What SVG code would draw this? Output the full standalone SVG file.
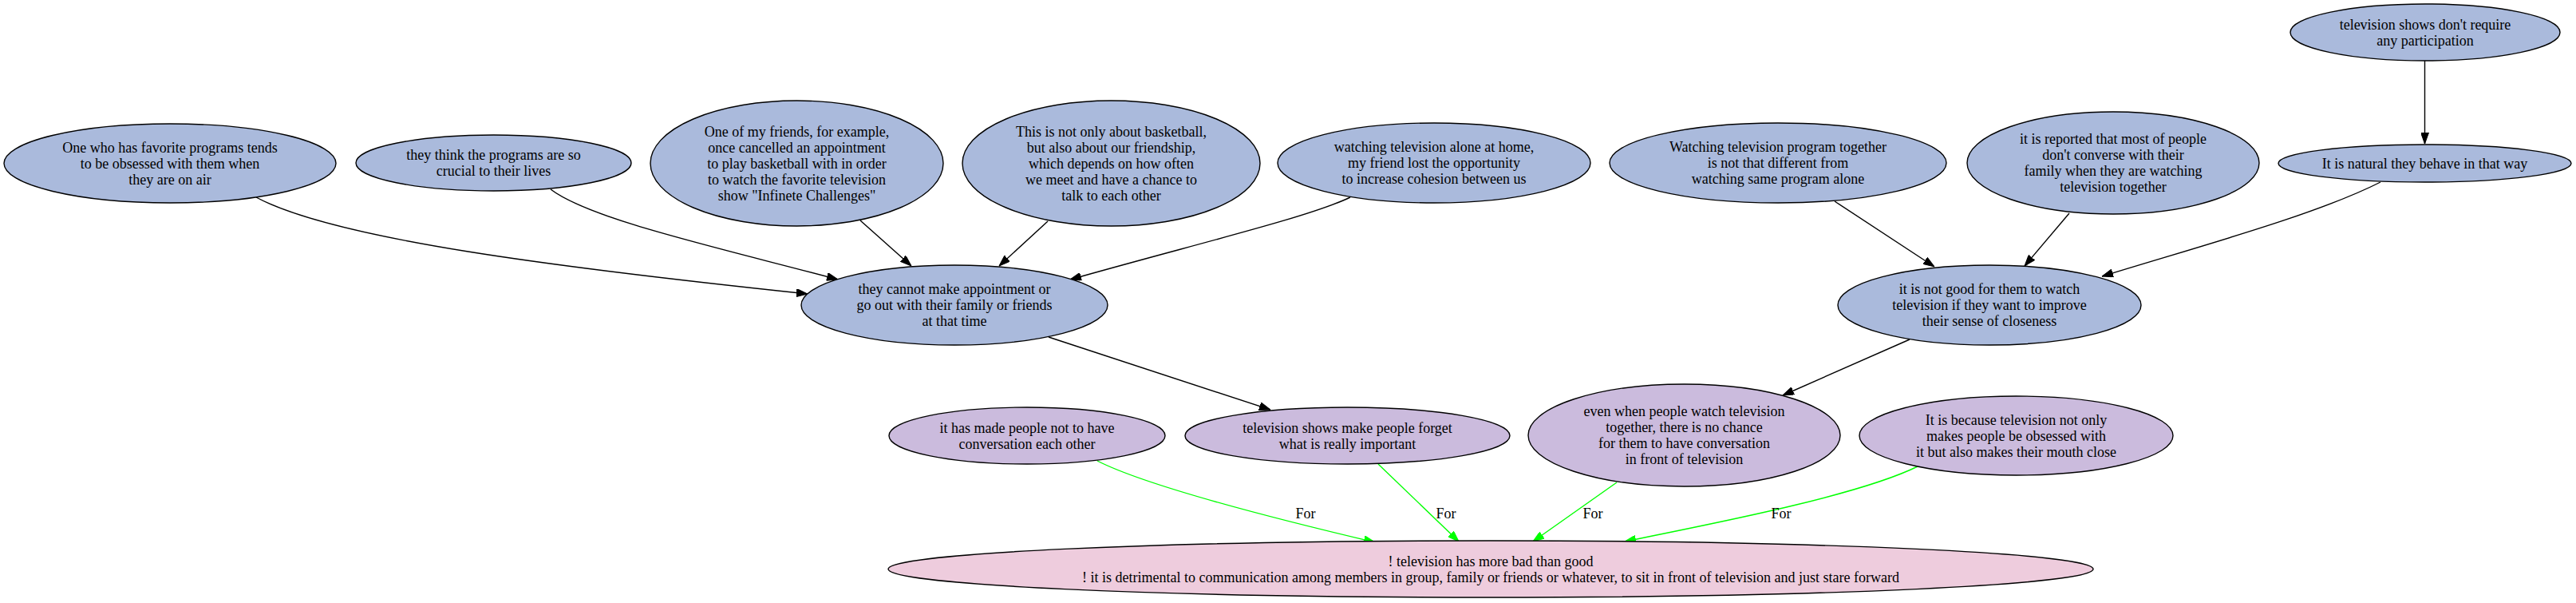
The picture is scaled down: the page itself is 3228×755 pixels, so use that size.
<svg xmlns="http://www.w3.org/2000/svg" width="3228" height="755" viewBox="0 0 3228 755">
<style>
.bg{fill:#ffffff}
.n ellipse{stroke:#000;stroke-width:1.4}
.blue ellipse{fill:#aabadc}
.purple ellipse{fill:#cbbbdd}
.pink ellipse{fill:#eeccdd}
text{font-family:"Liberation Serif","Times New Roman",serif;font-size:18px;fill:#000;text-anchor:middle}
.e{fill:none;stroke:#000;stroke-width:1.4}
.g{fill:none;stroke:#00ff00;stroke-width:1.4}
</style>
<defs>
<marker id="ab" viewBox="0 0 14 10" refX="14" refY="5" markerWidth="14" markerHeight="10" markerUnits="userSpaceOnUse" orient="auto"><path d="M0,0 L14,5 L0,10 z" fill="#000" stroke="#000" stroke-width="1"/></marker>
<marker id="ag" viewBox="0 0 14 10" refX="14" refY="5" markerWidth="14" markerHeight="10" markerUnits="userSpaceOnUse" orient="auto"><path d="M0,0 L14,5 L0,10 z" fill="#00ff00" stroke="#00ff00" stroke-width="1"/></marker>
</defs>
<rect class="bg" x="0" y="0" width="3228" height="755"/>
<g id="connectors">
<path class="e" marker-end="url(#ab)" d="M321,247 C420,300 700,335 1012,368"/>
<path class="e" marker-end="url(#ab)" d="M690,237 C740,275 900,310 1050,350"/>
<path class="e" marker-end="url(#ab)" d="M1078,276 L1142,333"/>
<path class="e" marker-end="url(#ab)" d="M1313,277 L1252,333"/>
<path class="e" marker-end="url(#ab)" d="M1692,247 C1640,272 1500,305 1341,350"/>
<path class="e" marker-end="url(#ab)" d="M1314,422 L1592,513"/>
<path class="e" marker-end="url(#ab)" d="M2299,252 L2424,334"/>
<path class="e" marker-end="url(#ab)" d="M2593,267 L2537,333"/>
<path class="e" marker-end="url(#ab)" d="M2983,228 C2900,270 2750,310 2634,346"/>
<path class="e" marker-end="url(#ab)" d="M3038.5,76 L3038.5,180"/>
<path class="e" marker-end="url(#ab)" d="M2393,425 L2234,495"/>
<path class="g" marker-end="url(#ag)" d="M1375,577 C1440,610 1600,650 1723,679"/>
<path class="g" marker-end="url(#ag)" d="M1727,581 L1828,678"/>
<path class="g" marker-end="url(#ag)" d="M2026,604 L1921,678"/>
<path class="g" marker-end="url(#ag)" d="M2403,584 C2330,620 2150,655 2036,678"/>
<text x="1636" y="649">For</text>
<text x="1812" y="649">For</text>
<text x="1996" y="649">For</text>
<text x="2232" y="649">For</text>
</g>
<g id="nodeA" class="n blue"><ellipse cx="213" cy="204.5" rx="208" ry="49.5"/>
<text x="213" y="190.5">One who has favorite programs tends</text><text x="213" y="210.5">to be obsessed with them when</text><text x="213" y="230.5">they are on air</text></g>
<g id="nodeB" class="n blue"><ellipse cx="618.5" cy="204" rx="172.5" ry="35"/>
<text x="618.5" y="200">they think the programs are so</text><text x="618.5" y="220">crucial to their lives</text></g>
<g id="nodeC" class="n blue"><ellipse cx="998.5" cy="204.5" rx="183.5" ry="78.5"/>
<text x="998.5" y="170.5">One of my friends, for example,</text><text x="998.5" y="190.5">once cancelled an appointment</text><text x="998.5" y="210.5">to play basketball with in order</text><text x="998.5" y="230.5">to watch the favorite television</text><text x="998.5" y="250.5">show "Infinete Challenges"</text></g>
<g id="nodeD" class="n blue"><ellipse cx="1392.5" cy="204.5" rx="186.5" ry="78.5"/>
<text x="1392.5" y="170.5">This is not only about basketball,</text><text x="1392.5" y="190.5">but also about our friendship,</text><text x="1392.5" y="210.5">which depends on how often</text><text x="1392.5" y="230.5">we meet and have a chance to</text><text x="1392.5" y="250.5">talk to each other</text></g>
<g id="nodeE" class="n blue"><ellipse cx="1196" cy="382" rx="192" ry="50"/>
<text x="1196" y="368">they cannot make appointment or</text><text x="1196" y="388">go out with their family or friends</text><text x="1196" y="408">at that time</text></g>
<g id="nodeF" class="n blue"><ellipse cx="1797" cy="204" rx="196" ry="50"/>
<text x="1797" y="190">watching television alone at home,</text><text x="1797" y="210">my friend lost the opportunity</text><text x="1797" y="230">to increase cohesion between us</text></g>
<g id="nodeG" class="n blue"><ellipse cx="2228" cy="204" rx="211" ry="50"/>
<text x="2228" y="190">Watching television program together</text><text x="2228" y="210">is not that different from</text><text x="2228" y="230">watching same program alone</text></g>
<g id="nodeH" class="n blue"><ellipse cx="2493" cy="382" rx="190" ry="50"/>
<text x="2493" y="368">it is not good for them to watch</text><text x="2493" y="388">television if they want to improve</text><text x="2493" y="408">their sense of closeness</text></g>
<g id="nodeI" class="n blue"><ellipse cx="2648" cy="204" rx="183" ry="64"/>
<text x="2648" y="180">it is reported that most of people</text><text x="2648" y="200">don't converse with their</text><text x="2648" y="220">family when they are watching</text><text x="2648" y="240">television together</text></g>
<g id="nodeJ" class="n blue"><ellipse cx="3039" cy="40.5" rx="169" ry="35.5"/>
<text x="3039" y="36.5">television shows don't require</text><text x="3039" y="56.5">any participation</text></g>
<g id="nodeK" class="n blue"><ellipse cx="3038.5" cy="204.5" rx="183.5" ry="23.5"/>
<text x="3038.5" y="210.5">It is natural they behave in that way</text></g>
<g id="nodeL" class="n purple"><ellipse cx="1287" cy="545.5" rx="173" ry="35.5"/>
<text x="1287" y="541.5">it has made people not to have</text><text x="1287" y="561.5">conversation each other</text></g>
<g id="nodeM" class="n purple"><ellipse cx="1688.5" cy="545.5" rx="203.5" ry="35.5"/>
<text x="1688.5" y="541.5">television shows make people forget</text><text x="1688.5" y="561.5">what is really important</text></g>
<g id="nodeN" class="n purple"><ellipse cx="2110.5" cy="545" rx="195.5" ry="64"/>
<text x="2110.5" y="521">even when people watch television</text><text x="2110.5" y="541">together, there is no chance</text><text x="2110.5" y="561">for them to have conversation</text><text x="2110.5" y="581">in front of television</text></g>
<g id="nodeO" class="n purple"><ellipse cx="2526.5" cy="545.5" rx="196.5" ry="49.5"/>
<text x="2526.5" y="531.5">It is because television not only</text><text x="2526.5" y="551.5">makes people be obsessed with</text><text x="2526.5" y="571.5">it but also makes their mouth close</text></g>
<g id="root" class="n pink"><ellipse cx="1868" cy="712.5" rx="755" ry="35.5"/>
<text x="1868" y="708.5">! television has more bad than good</text><text x="1868" y="728.5">! it is detrimental to communication among members in group, family or friends or whatever, to sit in front of television and just stare forward</text></g>
</svg>
